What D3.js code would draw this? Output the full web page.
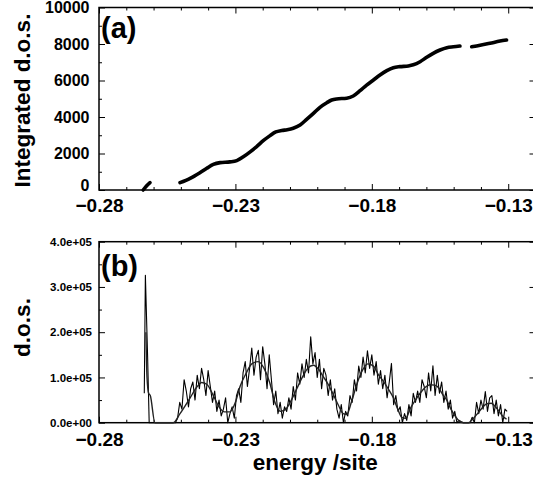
<!DOCTYPE html>
<html><head><meta charset="utf-8">
<script src="https://cdn.jsdelivr.net/npm/d3@7"></script>
<style>
body{margin:0;background:#fff}
svg{display:block}
</style>
</head><body>
<svg id="c" width="533" height="479"></svg>
<script>
// ---------------- data ----------------
const xTickValues = [-0.28, -0.23, -0.18, -0.13];
const xTickLabels = ["\u22120.28", "\u22120.23", "\u22120.18", "\u22120.13"];
const xMinorTicks = [-0.27, -0.26, -0.25, -0.24, -0.22, -0.21, -0.20, -0.19, -0.17, -0.16, -0.15, -0.14];

const idosTickValues = [0, 2000, 4000, 6000, 8000, 10000];
const idosTickLabels = ["0", "2000", "4000", "6000", "8000", "10000"];
const idosMinorTicks = [1000, 3000, 5000, 7000, 9000];

const dosTickValues = [0, 100000, 200000, 300000, 400000];
const dosTickLabels = ["0.0e+00", "1.0e+05", "2.0e+05", "3.0e+05", "4.0e+05"];
const dosMinorTicks = [50000, 150000, 250000, 350000];

// (a) integrated density of states, three drawn pieces
const idosE1 = [-0.2638, -0.2626, -0.2613];
const idosV1 = [0, 220, 400];
const idosE2 = [-0.2503, -0.2466, -0.2430, -0.2405, -0.2381, -0.2356, -0.2320, -0.2295, -0.2271, -0.2246,
  -0.2222, -0.2198, -0.2173, -0.2152, -0.2130, -0.2110, -0.2088, -0.2063, -0.2039, -0.2014,
  -0.1990, -0.1965, -0.1947, -0.1929, -0.1892, -0.1868, -0.1843, -0.1819, -0.1794, -0.1770,
  -0.1745, -0.1721, -0.1697, -0.1666, -0.1648, -0.1623, -0.1599, -0.1575, -0.1550, -0.1525,
  -0.1501, -0.1477];
const idosV2 = [400, 640, 950, 1190, 1400, 1500, 1540, 1610, 1820, 2090,
  2380, 2700, 2980, 3180, 3260, 3300, 3380, 3560, 3870, 4200,
  4530, 4780, 4930, 4990, 5030, 5150, 5440, 5750, 6030, 6300,
  6540, 6700, 6760, 6800, 6860, 7030, 7270, 7490, 7670, 7800,
  7850, 7890];
const idosE3 = [-0.1434, -0.1403, -0.1367, -0.1330, -0.1306];
const idosV3 = [7850, 7930, 8040, 8160, 8220];

// (b) density of states: raw (noisy) curve, in units of 1e5
const rawE = [-0.2634, -0.2630, -0.2622, -0.2616, -0.2520,
  -0.2512, -0.2504, -0.2496, -0.2488, -0.2480, -0.2472, -0.2464, -0.2456, -0.2448, -0.2440,
  -0.2432, -0.2424, -0.2416, -0.2408, -0.2400, -0.2392, -0.2384, -0.2376, -0.2368, -0.2360,
  -0.2352, -0.2344, -0.2336, -0.2328, -0.2320, -0.2312, -0.2304, -0.2296, -0.2288, -0.2280,
  -0.2272, -0.2264, -0.2256, -0.2248, -0.2240, -0.2232, -0.2224, -0.2216, -0.2208, -0.2200,
  -0.2192, -0.2184, -0.2176, -0.2168, -0.2160, -0.2152, -0.2144, -0.2136, -0.2128, -0.2120,
  -0.2112, -0.2104, -0.2096, -0.2088, -0.2080, -0.2072, -0.2064, -0.2056, -0.2048, -0.2040,
  -0.2032, -0.2024, -0.2016, -0.2008, -0.2000, -0.1992, -0.1984, -0.1976, -0.1968, -0.1960,
  -0.1952, -0.1944, -0.1936, -0.1928, -0.1920, -0.1912, -0.1904, -0.1896, -0.1888, -0.1880,
  -0.1872, -0.1864, -0.1856, -0.1848, -0.1840, -0.1832, -0.1824, -0.1816, -0.1808, -0.1800,
  -0.1792, -0.1784, -0.1776, -0.1768, -0.1760, -0.1752, -0.1744, -0.1736, -0.1728, -0.1720,
  -0.1712, -0.1704, -0.1696, -0.1688, -0.1680, -0.1672, -0.1664, -0.1656, -0.1648, -0.1640,
  -0.1632, -0.1624, -0.1616, -0.1608, -0.1600, -0.1592, -0.1584, -0.1576, -0.1568, -0.1560,
  -0.1552, -0.1544, -0.1536, -0.1528, -0.1520, -0.1512, -0.1504, -0.1496, -0.1488, -0.1480,
  -0.1472, -0.1464, -0.1456, -0.1448, -0.1440, -0.1432, -0.1424, -0.1416, -0.1408, -0.1400,
  -0.1392, -0.1384, -0.1376, -0.1368, -0.1360, -0.1352, -0.1344, -0.1336, -0.1328, -0.1320,
  -0.1312, -0.1304];
const rawV = [0.65, 3.26, 1.5, 0.0, 0.0,
  0.1, 0.45, 0.3, 0.95, 0.7, 0.35, 0.75, 0.9, 0.5, 1.05,
  0.75, 1.2, 0.95, 0.6, 1.15, 0.8, 0.45, 0.7, 0.25, 0.5,
  0.15, 0.3, 0.55, 0.0, 0.2, 0.35, 0.1, 0.6, 0.75, 0.45,
  1.1, 1.35, 0.8, 1.2, 1.65, 1.05, 1.45, 1.6, 0.95, 1.68,
  1.3, 0.75, 1.5, 0.95, 0.4, 0.7, 0.2, 0.45, 0.1, 0.35,
  0.25, 0.55, 0.3, 0.8, 0.5, 1.1, 0.85, 1.3, 1.0, 1.4,
  1.1, 1.9, 1.3, 1.55, 1.0, 1.4, 0.75, 1.2, 1.05, 0.6,
  0.95, 0.5, 0.75, 0.3, 0.1, 0.4, 0.0, 0.25, 0.15, 0.6,
  0.45, 0.95, 0.7, 1.25, 1.0, 1.45, 1.1, 1.59, 1.2, 1.5,
  1.05, 1.35, 0.85, 1.15, 0.75, 1.05, 0.55, 0.9, 1.31, 0.4,
  0.6, 0.25, 0.35, 0.0, 0.2, 0.05, 0.4, 0.15, 0.65, 0.45,
  0.7, 0.45, 0.95, 0.8, 0.55, 1.1, 0.7, 1.26, 0.6, 1.05,
  0.65, 0.9, 0.45, 0.7, 0.3, 0.5, 0.1, 0.25, 0.0, 0.05,
  0.02, 0.0, 0.0, 0.0, 0.0, 0.12, 0.0, 0.45, 0.2, 0.5,
  0.3, 0.69, 0.25, 0.55, 0.6, 0.2, 0.5, 0.15, 0.4, 0.0,
  0.3, 0.25];

// (b) smoothed density of states, in units of 1e5
const smoothE = [-0.2628, -0.2624, -0.2618, -0.2612, -0.2595, -0.2528,
  -0.2503, -0.2466, -0.2440, -0.2424, -0.2405, -0.2381, -0.2360, -0.2340, -0.2320, -0.2300,
  -0.2283, -0.2260, -0.2240, -0.2216, -0.2195, -0.2175, -0.2155, -0.2135, -0.2115, -0.2095,
  -0.2075, -0.2055, -0.2035, -0.2014, -0.1995, -0.1978, -0.1960, -0.1941, -0.1922, -0.1905,
  -0.1892, -0.1875, -0.1855, -0.1835, -0.1815, -0.1794, -0.1775, -0.1758, -0.1740, -0.1721,
  -0.1705, -0.1690, -0.1675, -0.1660, -0.1640, -0.1623, -0.1605, -0.1587, -0.1570, -0.1556,
  -0.1540, -0.1525, -0.1510, -0.1495, -0.1480, -0.1465, -0.1445, -0.1430, -0.1410, -0.1395,
  -0.1379, -0.1362, -0.1348, -0.1333, -0.1318, -0.1306];
const smoothV = [2.0, 1.0, 0.65, 0.6, 0.0, 0.0,
  0.2, 0.55, 0.8, 0.89, 0.85, 0.6, 0.35, 0.24, 0.24, 0.45,
  0.8, 1.1, 1.3, 1.35, 1.2, 0.9, 0.45, 0.25, 0.3, 0.5,
  0.75, 1.0, 1.2, 1.27, 1.18, 1.02, 0.85, 0.62, 0.38, 0.2,
  0.18, 0.45, 0.85, 1.15, 1.3, 1.25, 1.05, 0.92, 0.75, 0.55,
  0.3, 0.12, 0.1, 0.3, 0.5, 0.65, 0.78, 0.84, 0.83, 0.78,
  0.62, 0.5, 0.3, 0.15, 0.04, 0.0, 0.0, 0.08, 0.22, 0.33,
  0.42, 0.43, 0.36, 0.25, 0.13, 0.08];

// ---------------- drawing ----------------
const svg = d3.select("#c");
const FONT = "'Liberation Sans', Arial, Helvetica, sans-serif";
const L = 99, R = 535.5;
const x = d3.scaleLinear().domain([-0.28, -0.12]).range([L, R]);

function panel(opt) {
  const y = opt.y;
  const [yb, yt] = y.range();
  const g = svg.append("g");

  function styleAxis(sel) {
    sel.select(".domain").remove();
    sel.selectAll("line").attr("stroke", "#000").attr("stroke-width", 1);
  }
  const gb = g.append("g").attr("transform", `translate(0,${yb})`)
    .call(d3.axisBottom(x).tickValues(xTickValues).tickSize(-6).tickPadding(opt.xPad)
      .tickFormat((d, i) => xTickLabels[i]));
  styleAxis(gb);
  gb.selectAll("text").attr("font-family", FONT).attr("font-weight", "bold")
    .attr("font-size", 19).attr("fill", "#000");
  const gbm = g.append("g").attr("transform", `translate(0,${yb})`)
    .call(d3.axisBottom(x).tickValues(xMinorTicks).tickSize(-3).tickFormat(""));
  styleAxis(gbm);
  const gt = g.append("g").attr("transform", `translate(0,${yt})`)
    .call(d3.axisTop(x).tickValues(xTickValues).tickSize(-6).tickFormat(""));
  styleAxis(gt);
  const gtm = g.append("g").attr("transform", `translate(0,${yt})`)
    .call(d3.axisTop(x).tickValues(xMinorTicks).tickSize(-3).tickFormat(""));
  styleAxis(gtm);
  const gl = g.append("g").attr("transform", `translate(${L},0)`)
    .call(d3.axisLeft(y).tickValues(opt.yTicks).tickSize(-6).tickPadding(opt.yPad)
      .tickFormat((d, i) => opt.yLabels[i]));
  styleAxis(gl);
  gl.selectAll("text").attr("font-family", FONT).attr("font-weight", "bold")
    .attr("font-size", opt.yFont).attr("fill", "#000");
  const glm = g.append("g").attr("transform", `translate(${L},0)`)
    .call(d3.axisLeft(y).tickValues(opt.yMinor).tickSize(-3).tickFormat(""));
  styleAxis(glm);
  const gr = g.append("g").attr("transform", `translate(${R},0)`)
    .call(d3.axisRight(y).tickValues(opt.yTicks).tickSize(-6).tickFormat(""));
  styleAxis(gr);
  g.append("rect").attr("x", L).attr("y", yt).attr("width", R - L).attr("height", yb - yt)
    .attr("fill", "none").attr("stroke", "#000").attr("stroke-width", 1.5);
  g.append("text").attr("x", 101).attr("y", opt.letterY).text(opt.letter)
    .attr("font-family", FONT).attr("font-weight", "bold").attr("font-size", 29);
  g.append("text").attr("transform", `translate(${opt.titleX},${opt.titleY}) rotate(-90)`)
    .attr("text-anchor", "middle").text(opt.title)
    .attr("font-family", FONT).attr("font-weight", "bold").attr("font-size", 22.5);
  return g;
}

// panel (a)
const yA = d3.scaleLinear().domain([0, 10000]).range([190, 7.5]);
const gA = panel({y: yA, yTicks: idosTickValues, yLabels: idosTickLabels, yMinor: idosMinorTicks,
  yFont: 16, yPad: 9.5, xPad: 8.5, letter: "(a)", letterY: 38, title: "Integrated d.o.s.",
  titleX: 30, titleY: 100.5});
// nudge the "0" label up so it clears the x tick label below
gA.selectAll("text").filter(function () { return this.textContent === "0"; }).attr("dy", "0.05em");

const lineA = d3.line().x(d => x(d[0])).y(d => yA(d[1])).curve(d3.curveMonotoneX);
[[idosE1, idosV1], [idosE2, idosV2], [idosE3, idosV3]].forEach(([E, V]) => {
  gA.append("path").datum(E.map((e, i) => [e, V[i]])).attr("d", lineA)
    .attr("fill", "none").attr("stroke", "#000").attr("stroke-width", 3.6)
    .attr("stroke-linecap", "round").attr("stroke-linejoin", "round");
});

// panel (b)
const yB = d3.scaleLinear().domain([0, 400000]).range([422.7, 241.7]);
const gB = panel({y: yB, yTicks: dosTickValues, yLabels: dosTickLabels, yMinor: dosMinorTicks,
  yFont: 11.5, yPad: 7, xPad: 9.5, letter: "(b)", letterY: 276, title: "d.o.s.",
  titleX: 30, titleY: 327.5});

const lineB = d3.line().x(d => x(d[0])).y(d => yB(d[1] * 1e5));
gB.append("path").datum(rawE.map((e, i) => [e, rawV[i]])).attr("d", lineB)
  .attr("fill", "none").attr("stroke", "#000").attr("stroke-width", 1.1)
  .attr("stroke-linejoin", "round");
gB.append("path").datum(smoothE.map((e, i) => [e, smoothV[i]]))
  .attr("d", lineB.curve(d3.curveMonotoneX))
  .attr("fill", "none").attr("stroke", "#222").attr("stroke-width", 1.4);

// x title
svg.append("text").attr("x", (L + R) / 2 - 2).attr("y", 470).attr("text-anchor", "middle")
  .text("energy /site").attr("font-family", FONT).attr("font-weight", "bold").attr("font-size", 22.5);
</script>
</body></html>
